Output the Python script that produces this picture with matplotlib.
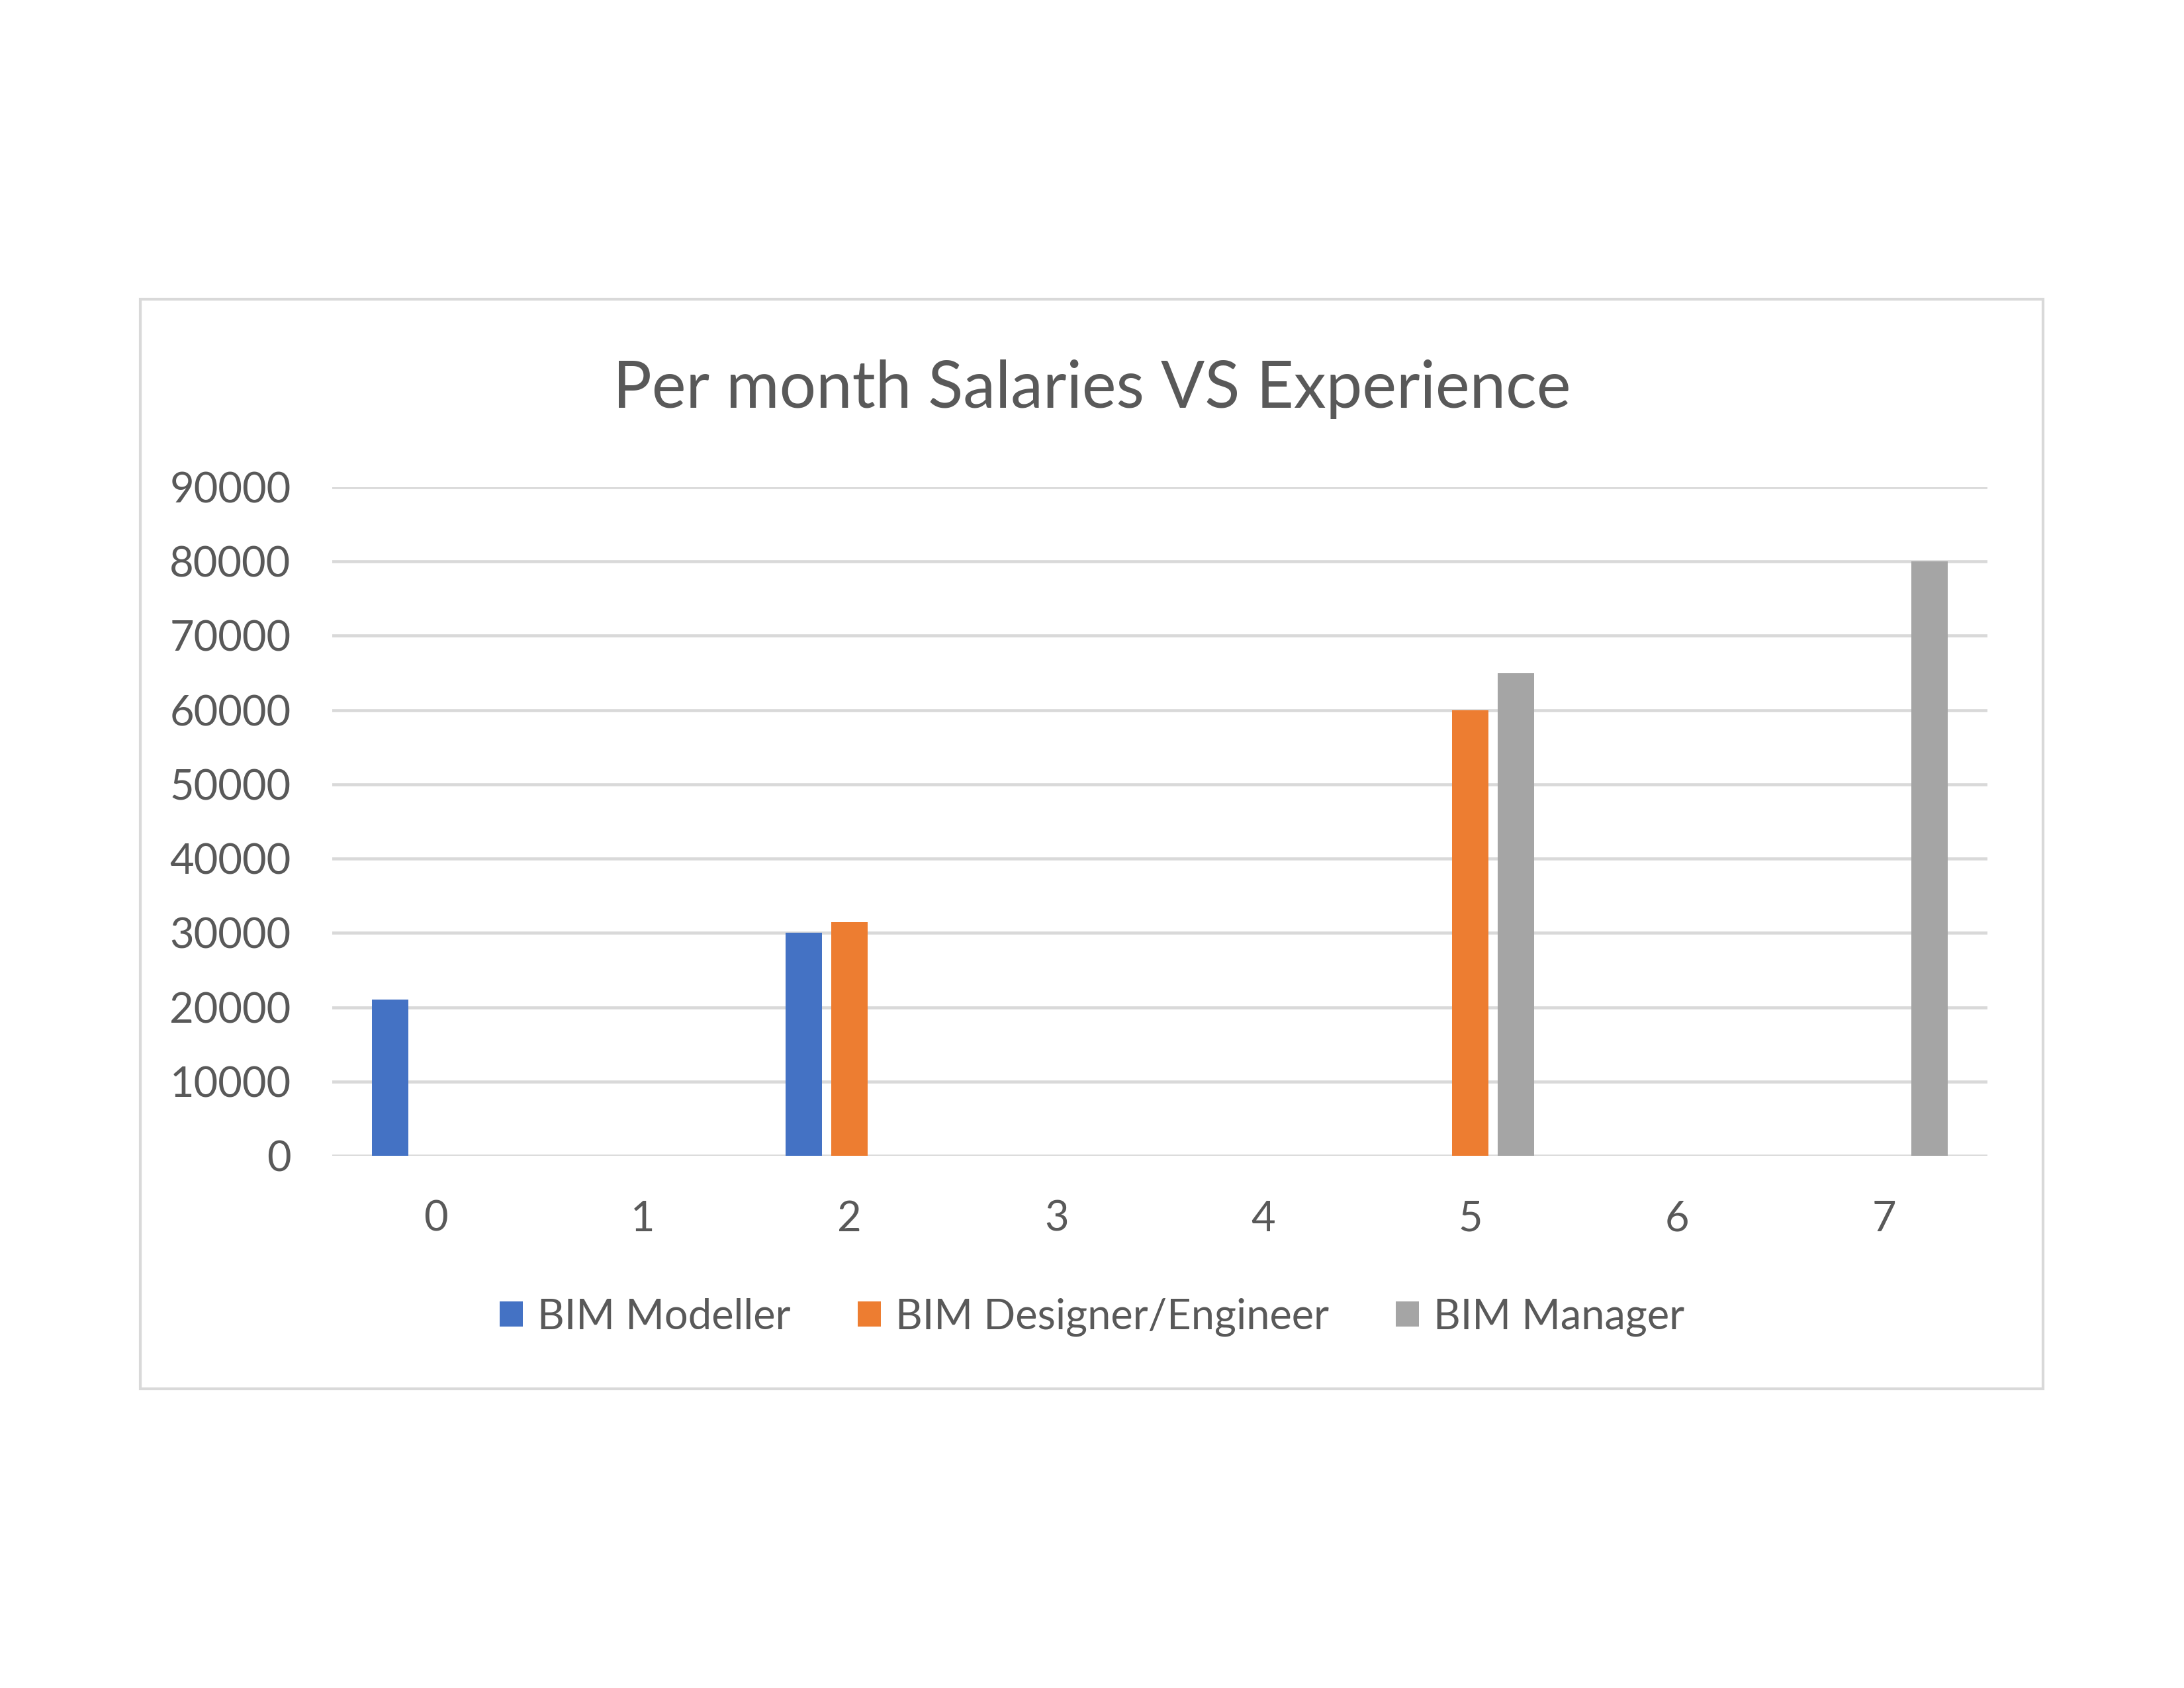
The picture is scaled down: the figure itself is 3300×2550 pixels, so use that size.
import numpy as np
import matplotlib
matplotlib.use("Agg")
import matplotlib.pyplot as plt
from matplotlib.patches import Rectangle, Patch

plt.rcParams['font.family'] = ['Lato', 'DejaVu Sans']

# Data
experience = [0, 1, 2, 3, 4, 5, 6, 7]
series_names = ["BIM Modeller", "BIM Designer/Engineer", "BIM Manager"]
modeller = [21000, 0, 30000, 0, 0, 0, 0, 0]
designer = [0, 0, 31500, 0, 0, 60000, 0, 0]
manager = [0, 0, 0, 0, 0, 65000, 0, 80000]
colors = ["#4472C4", "#ED7D31", "#A5A5A5"]
yticks = [0, 10000, 20000, 30000, 40000, 50000, 60000, 70000, 80000, 90000]
title = "Per month Salaries VS Experience"

W, H = 3300, 2550
fig = plt.figure(figsize=(11, 8.5), dpi=300)
fig.patch.set_facecolor("white")

# chart border
fig.add_artist(Rectangle((212 / W, 1 - 2098 / H), (3087 - 212) / W, (2098 - 452) / H,
                         transform=fig.transFigure, fill=False,
                         edgecolor="#D9D9D9", linewidth=1.0))

ax = fig.add_axes([502 / W, 1 - 1746 / H, (3003 - 502) / W, (1746 - 736) / H])

x = np.arange(len(experience))
bw = 0.176
offs = [-0.22, 0.0, 0.22]
for vals, off, c, name in zip([modeller, designer, manager], offs, colors, series_names):
    ax.bar(x + off, vals, width=bw, color=c, label=name, zorder=3)

ax.set_xlim(-0.5, len(experience) - 0.5)
ax.set_ylim(0, 90000)
ax.set_yticks(yticks)
ax.set_yticklabels([str(v) for v in yticks])
ax.set_xticks(x)
ax.set_xticklabels([str(e) for e in experience])
ax.grid(axis="y", color="#D9D9D9", linewidth=1.1, zorder=0)
ax.set_axisbelow(True)
for s in ax.spines.values():
    s.set_visible(False)
ax.tick_params(axis="both", length=0, colors="#595959", labelsize=15.2)
ax.tick_params(axis="y", pad=15)
ax.tick_params(axis="x", pad=16)

fig.text(0.5, 1 - 588 / H, title, ha="center", va="center",
         fontsize=23.5, color="#595959")

handles = [Patch(facecolor=c, edgecolor="none") for c in colors]
fig.legend(handles, series_names, loc="center", bbox_to_anchor=(0.5, 1 - 1990 / H),
           ncol=3, frameon=False, fontsize=15.2, labelcolor="#595959",
           handlelength=0.55, handleheight=0.55, handletextpad=0.35,
           columnspacing=1.6)

fig.savefig("out.png", dpi=300, facecolor="white")
